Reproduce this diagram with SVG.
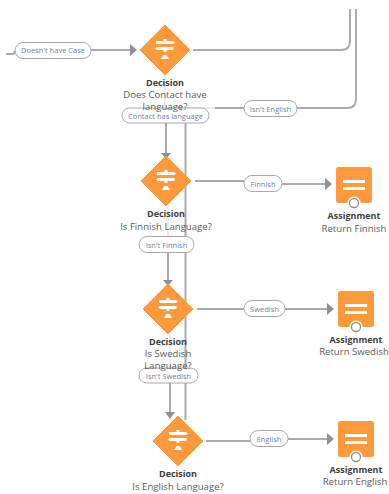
<svg xmlns="http://www.w3.org/2000/svg" width="389" height="494" viewBox="0 0 389 494">
<style>
.c{fill:none;stroke:#a9a9ae;stroke-width:2}
.f{fill:none;stroke:#ececee;stroke-width:2}
.p{fill:#fff;stroke:#a6a8b0;stroke-width:1}
.a{fill:#8f9096}
.s{fill:#ff9a3c}
.w{fill:#fff}
text{font-family:"Open Sans","Liberation Sans",sans-serif;text-anchor:middle}
.l{font-size:7.5px;fill:#6f7fa3}
.t{font-size:9px;font-weight:700;fill:#3e3e3c}
.d{font-size:9.6px;fill:#5c5c5c}
</style>
<defs>
<g id="sign">
<path class="s" d="M0-25 25 0 0 25-25 0Z" stroke="#ff9a3c" stroke-width="1" stroke-linejoin="round"/>
<path class="w" d="M-9-9H-1.500V-11H1.500V-9H8L10-7.500 8-6H-9ZM-10 -1.500-8-3H8.500V-0H1.500V2H-1.500V0H-8ZM-1.500 5H1.500L4 9H-4Z"/>
</g>
<g id="assign">
<rect class="s" x="0" y="0" width="36" height="36" rx="2.500"/>
<rect class="w" x="7" y="13" width="22" height="3"/>
<rect class="w" x="7" y="20" width="22" height="3"/>
<circle cx="18" cy="36" r="6.500" fill="#fff"/>
<circle cx="18" cy="36" r="4.500" fill="#fff" stroke="#8f8f8f" stroke-width="1.300"/>
</g>
</defs>
<g id="connectors">
<path class="c" d="M6 54H12Q15 54 15 51"/>
<path class="c" d="M91 50H131"/>
<path class="a" d="M130 44 137 50 130 56Z"/>
<path class="c" d="M193 50H341Q350 50 350 41V9"/>
<path class="c" d="M356 9V99Q356 108 347 108H297"/>
<path class="c" d="M244 108H215"/>
<path class="f" d="M165 75V107M190 108H215"/>
<path class="c" d="M166 123V154"/>
<path class="a" d="M161 153H171L166 159Z"/>
<path class="c" d="M185.500 123V420"/>
<path class="c" d="M195 181H244"/>
<path class="c" d="M282 184H326"/>
<path class="a" d="M325 178 332 184 325 190Z"/>
<path class="f" d="M168 206V236"/>
<path class="c" d="M168 253V281"/>
<path class="a" d="M163 280H173L168 286Z"/>
<path class="c" d="M197 309H244"/>
<path class="c" d="M285 309H328"/>
<path class="a" d="M327 303 334 309 327 315Z"/>
<path class="f" d="M170 334V367"/>
<path class="c" d="M170 383V413"/>
<path class="a" d="M165 412H175L170 419Z"/>
<path class="c" d="M206 441H250"/>
<path class="c" d="M288 439H328"/>
<path class="a" d="M327 433 334 439 327 445Z"/>
</g>
<g id="edge-no-case"><rect class="p" x="15" y="42.500" width="76" height="16" rx="8"/><text class="l" x="53" y="53">Doesn't have Case</text></g>
<g id="edge-contact-has"><rect class="p" x="122" y="108" width="87" height="15" rx="7.500"/><text class="l" x="165.500" y="119">Contact has language</text></g>
<g id="decision-contact">
<use href="#sign" x="165" y="50"/>
<text class="t" x="165" y="86">Decision</text>
<text class="d" x="165" y="98">Does Contact have</text>
<text class="d" x="165" y="109.500">language?</text>
</g>
<g id="edge-isnt-english"><rect class="p" x="244" y="100.500" width="53" height="16" rx="8"/><text class="l" x="270.500" y="111.500">Isn't English</text></g>
<g id="decision-finnish">
<use href="#sign" x="166" y="181"/>
<text class="t" x="166" y="217">Decision</text>
<text class="d" x="166" y="230">Is Finnish Language?</text>
</g>
<g id="edge-finnish"><rect class="p" x="244" y="175.500" width="38" height="16" rx="8"/><text class="l" x="263" y="186.500">Finnish</text></g>
<g id="edge-isnt-finnish"><rect class="p" x="139" y="236.500" width="55" height="16" rx="8"/><text class="l" x="166.500" y="247.500">Isn't Finnish</text></g>
<g id="assignment-finnish">
<use href="#assign" x="336" y="167"/>
<text class="t" x="354" y="219">Assignment</text>
<text class="d" x="354" y="232">Return Finnish</text>
</g>
<g id="edge-isnt-swedish"><rect class="p" x="139" y="368" width="59" height="15" rx="7.500"/><text class="l" x="168.500" y="379">Isn't Swedish</text></g>
<g id="decision-swedish">
<use href="#sign" x="168" y="309"/>
<text class="t" x="168" y="345">Decision</text>
<text class="d" x="168" y="357">Is Swedish</text>
<text class="d" x="168" y="368.500">Language?</text>
</g>
<g id="edge-swedish"><rect class="p" x="244" y="300.500" width="41" height="16" rx="8"/><text class="l" x="264.500" y="311.500">Swedish</text></g>
<g id="assignment-swedish">
<use href="#assign" x="338" y="291"/>
<text class="t" x="356" y="343">Assignment</text>
<text class="d" x="354" y="355">Return Swedish</text>
</g>
<g id="decision-english">
<use href="#sign" x="178" y="441"/>
<text class="t" x="178" y="477">Decision</text>
<text class="d" x="178" y="490">Is English Language?</text>
</g>
<g id="edge-english"><rect class="p" x="250" y="430.500" width="38" height="16" rx="8"/><text class="l" x="269" y="441.500">English</text></g>
<g id="assignment-english">
<use href="#assign" x="338" y="421"/>
<text class="t" x="356" y="473">Assignment</text>
<text class="d" x="355" y="485">Return English</text>
</g>
</svg>
